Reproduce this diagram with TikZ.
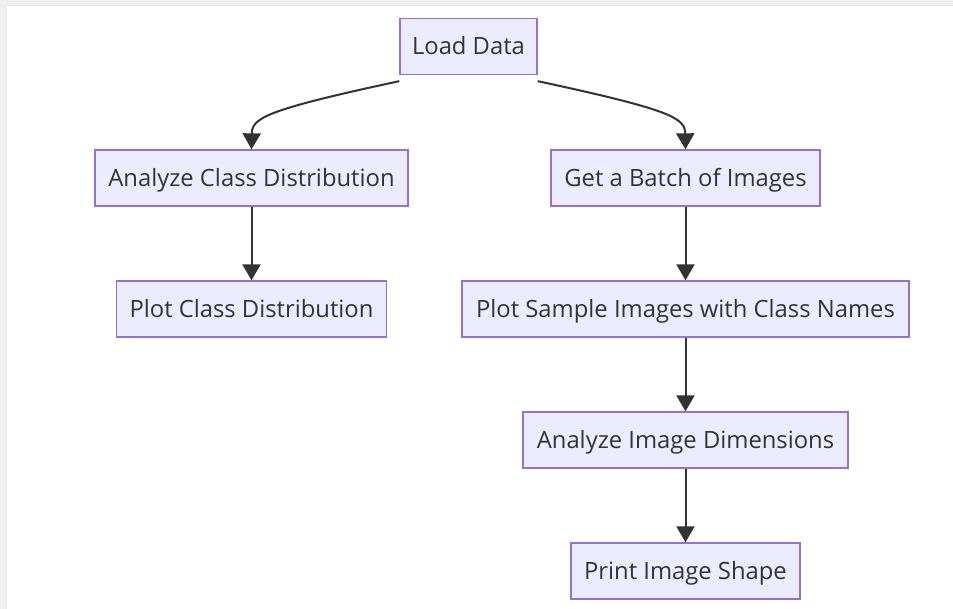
\documentclass[tikz,border=0pt]{standalone}
\usepackage{fontspec}
\setmainfont{Open Sans}
\usetikzlibrary{arrows.meta}
\definecolor{nfill}{HTML}{ECECFF}
\definecolor{nborder}{HTML}{9370DB}
\definecolor{ntext}{HTML}{333333}
\definecolor{edge}{HTML}{333333}
\definecolor{strip}{HTML}{F0F0F0}
\definecolor{stripline}{HTML}{E6E6E6}
\begin{document}
\begin{tikzpicture}[x=1pt,y=-1pt,
  box/.style={draw=nborder,fill=nfill,line width=1.3pt,text=ntext,
    font=\fontsize{23.8}{28}\selectfont,minimum height=56pt,inner sep=0pt,
    text height=17pt,text depth=0pt,anchor=center},
  flow/.style={draw=edge,line width=2pt,-{Triangle[length=16pt,width=18pt]}}]
\useasboundingbox (0,0) rectangle (953,609);
\fill[white] (0,0) rectangle (953,609);
\fill[strip] (0,0) rectangle (953,6);
\fill[stripline] (7,5) rectangle (953,6.5);
\fill[strip] (0,0) rectangle (7,609);
\node[box,minimum width=137pt] (load) at (468.5,46.5) {Load Data};
\node[box,minimum width=313pt] (acd) at (251.5,178) {Analyze Class Distribution};
\node[box,minimum width=269pt] (gbi) at (685.5,178) {Get a Batch of Images};
\node[box,minimum width=270pt] (pcd) at (251.5,309) {Plot Class Distribution};
\node[box,minimum width=447pt] (psi) at (685.5,309) {Plot Sample Images with Class Names};
\node[box,minimum width=325pt] (aid) at (685.5,440) {Analyze Image Dimensions};
\node[box,minimum width=229pt] (pis) at (685.5,571) {Print Image Shape};
\coordinate (l1) at ([yshift=-6pt]load.south west);
\coordinate (r1) at ([yshift=-6pt]load.south east);
\draw[flow] (l1) .. controls (265,110) and (252,118) .. (acd.north);
\draw[flow] (r1) .. controls (672,110) and (685,118) .. (gbi.north);
\draw[flow] (acd) -- (pcd);
\draw[flow] (gbi) -- (psi);
\draw[flow] (psi) -- (aid);
\draw[flow] (aid) -- (pis);
\end{tikzpicture}
\end{document}
